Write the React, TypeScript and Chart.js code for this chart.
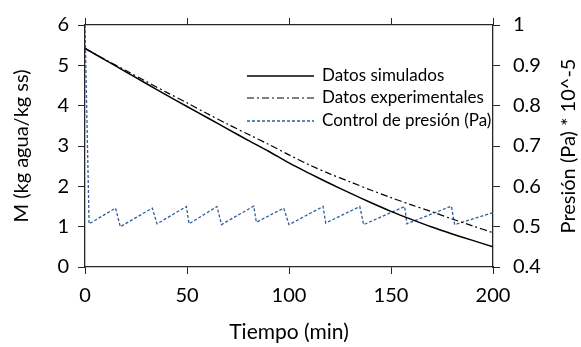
import React, { useEffect, useRef } from "react";
import { Chart, registerables } from "chart.js";

Chart.register(...registerables);

// Tiempo (min) for the M curves
const timeMin = [0, 10, 20, 30, 40, 50, 60, 70, 80, 90, 100, 110, 120, 130, 140, 150, 160, 170, 180, 190, 200];
// Datos simulados: M (kg agua/kg ss)
const simulated = [5.42, 5.13, 4.84, 4.55, 4.26, 3.98, 3.70, 3.42, 3.14, 2.87, 2.58, 2.32, 2.07, 1.83, 1.60, 1.38, 1.18, 0.99, 0.82, 0.66, 0.50];
// Datos experimentales: M (kg agua/kg ss)
const experimental = [5.42, 5.14, 4.87, 4.60, 4.33, 4.07, 3.80, 3.54, 3.29, 3.04, 2.78, 2.53, 2.31, 2.11, 1.91, 1.72, 1.54, 1.37, 1.19, 1.02, 0.85];
// Control de presión: tiempo (min) and presión (Pa) * 10^-5
const pressureTime = [0, 2, 15, 17.3, 33, 35.3, 49.7, 51, 64.7, 66.9, 82.7, 84, 97.4, 100, 116.7, 118, 134.7, 136.6, 156.7, 157.8, 179.6, 181.2, 200];
const pressureValues = [1.0, 0.507, 0.546, 0.5, 0.546, 0.507, 0.55, 0.507, 0.55, 0.505, 0.551, 0.511, 0.546, 0.505, 0.55, 0.509, 0.55, 0.505, 0.55, 0.507, 0.551, 0.505, 0.535];

const seriesLabels = ["Datos simulados", "Datos experimentales", "Control de presión (Pa)"];
const xTitle = "Tiempo (min)";
const yTitle = "M (kg agua/kg ss)";
const y2Title = "Presión (Pa) * 10^-5";

const FONT = "Lato, 'Noto Sans', sans-serif";
const AXIS = "#262626";
const BLUE = "#2F5C9E";

export default function App() {
  const ref = useRef<HTMLCanvasElement | null>(null);

  useEffect(() => {
    document.body.style.margin = "0";
    const canvas = ref.current;
    if (!canvas) return;

    const overlay = {
      id: "overlay",
      afterDraw(chart: any) {
        const ctx = chart.ctx as CanvasRenderingContext2D;
        const ca = chart.chartArea;
        ctx.save();
        ctx.fillStyle = "#000";
        // axis titles
        ctx.textAlign = "center";
        ctx.textBaseline = "middle";
        ctx.font = `21px ${FONT}`;
        ctx.fillText(xTitle, (ca.left + ca.right) / 2, 332);
        ctx.font = `20px ${FONT}`;
        const cy = (ca.top + ca.bottom) / 2;
        ctx.save();
        ctx.translate(22, cy);
        ctx.rotate(-Math.PI / 2);
        ctx.fillText(yTitle, 0, 0);
        ctx.restore();
        ctx.save();
        ctx.translate(569, cy);
        ctx.rotate(-Math.PI / 2);
        ctx.fillText(y2Title, 0, 0);
        ctx.restore();

        // legend
        const rows = [76, 98, 121];
        const styles = [
          { color: "#000", dash: [] as number[], width: 1.5 },
          { color: "#000", dash: [7, 3, 2, 3], width: 1.2 },
          { color: BLUE, dash: [3, 2], width: 1.3 },
        ];
        ctx.font = `17px ${FONT}`;
        ctx.textAlign = "left";
        ctx.textBaseline = "middle";
        rows.forEach((y, i) => {
          const s = styles[i];
          ctx.beginPath();
          ctx.strokeStyle = s.color;
          ctx.lineWidth = s.width;
          ctx.setLineDash(s.dash);
          ctx.moveTo(247, y);
          ctx.lineTo(314, y);
          ctx.stroke();
          ctx.setLineDash([]);
          ctx.fillText(chart.data.datasets[i].label, 322, y);
        });
        ctx.restore();
      },
    };

    const tickFont = { family: FONT, size: 20 };
    const gridOut = { display: true, drawOnChartArea: false, drawTicks: true, tickLength: 7, color: AXIS, lineWidth: 1 };

    const chart = new Chart(canvas, {
      type: "line",
      data: {
        datasets: [
          {
            label: seriesLabels[0],
            data: timeMin.map((t, i) => ({ x: t, y: simulated[i] })),
            borderColor: "#000",
            borderWidth: 1.5,
            pointRadius: 0,
            tension: 0.3,
            xAxisID: "x",
            yAxisID: "y",
          },
          {
            label: seriesLabels[1],
            data: timeMin.map((t, i) => ({ x: t, y: experimental[i] })),
            borderColor: "#000",
            borderWidth: 1.2,
            borderDash: [7, 3, 2, 3],
            pointRadius: 0,
            tension: 0.3,
            xAxisID: "x",
            yAxisID: "y",
          },
          {
            label: seriesLabels[2],
            data: pressureTime.map((t, i) => ({ x: t, y: pressureValues[i] })),
            borderColor: BLUE,
            borderWidth: 1.3,
            borderDash: [3, 2],
            pointRadius: 0,
            tension: 0,
            xAxisID: "x2",
            yAxisID: "y2",
          },
        ],
      },
      options: {
        responsive: false,
        animation: false,
        layout: { padding: 0 },
        plugins: { legend: { display: false }, tooltip: { enabled: false } },
        scales: {
          x: {
            type: "linear",
            position: "bottom",
            min: 0,
            max: 200,
            ticks: { stepSize: 50, font: tickFont, color: "#000", padding: 10, maxRotation: 0 },
            grid: gridOut,
            border: { display: true, color: AXIS, width: 1.3 },
            afterFit: (s: any) => { s.height = 80; },
          },
          x2: {
            type: "linear",
            position: "top",
            min: 0,
            max: 200,
            ticks: { stepSize: 50, display: false },
            grid: gridOut,
            border: { display: true, color: AXIS, width: 1.3 },
            afterFit: (s: any) => { s.height = 22; },
          },
          y: {
            type: "linear",
            position: "left",
            min: 0,
            max: 6,
            ticks: { stepSize: 1, font: tickFont, color: "#000", padding: 9 },
            grid: gridOut,
            border: { display: true, color: AXIS, width: 1.3 },
            afterFit: (s: any) => { s.width = 85; },
          },
          y2: {
            type: "linear",
            position: "right",
            min: 0.4,
            max: 1,
            ticks: {
              stepSize: 0.1,
              font: tickFont,
              color: "#000",
              padding: 13,
              callback: (v: any) => String(Number(Number(v).toFixed(1))),
            },
            grid: gridOut,
            border: { display: true, color: AXIS, width: 1.3 },
            afterFit: (s: any) => { s.width = 88; },
          },
        },
      },
      plugins: [overlay],
    });

    return () => chart.destroy();
  }, []);

  return (
    <div style={{ width: 581, height: 347, background: "#fff" }}>
      <canvas ref={ref} width={581} height={347} style={{ display: "block" }} />
    </div>
  );
}
